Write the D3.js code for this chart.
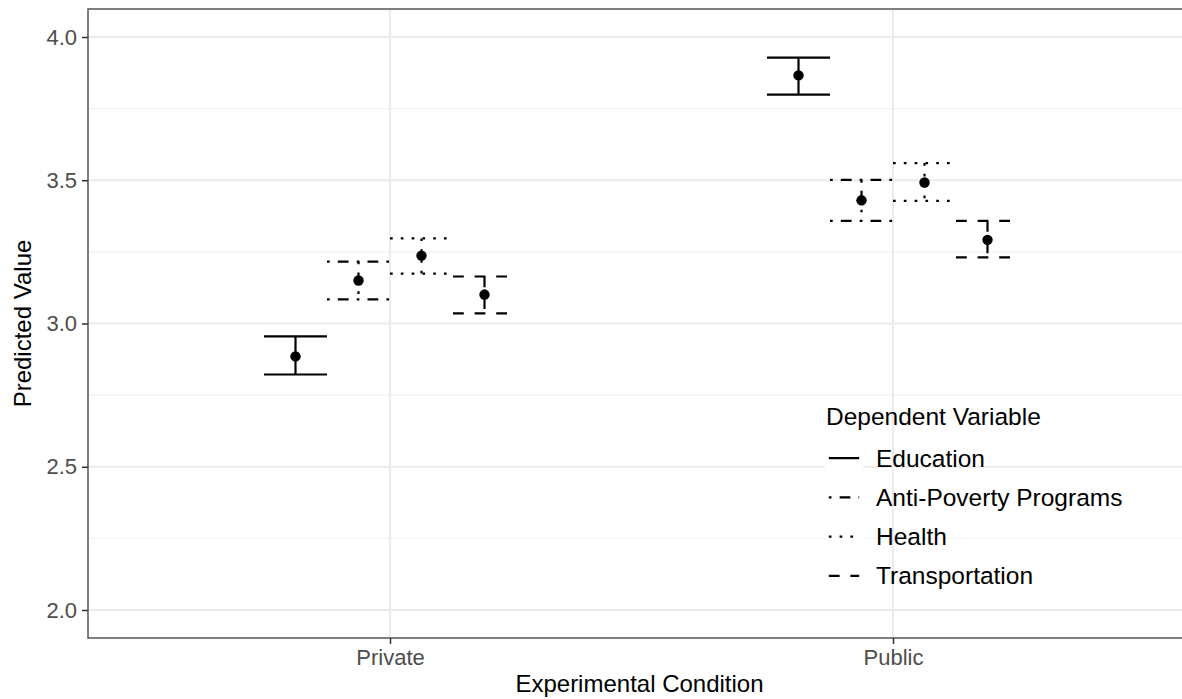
<!DOCTYPE html>
<html>
<head>
<meta charset="utf-8">
<script src="https://cdn.jsdelivr.net/npm/d3@7"></script>
<style>
  body { margin: 0; background: #fff; }
  svg { display: block; font-family: "Liberation Sans", Arial, sans-serif; }
</style>
</head>
<body>
<div id="chart"></div>
<script>
// conditions and dependent variables
const conditions = ['Private', 'Public'];
const variables = ['Education', 'Anti-Poverty Programs', 'Health', 'Transportation'];

// predicted values and intervals, one entry per variable (order as above)
const privateFit = [2.885, 3.150, 3.237, 3.101];
const privateLow = [2.822, 3.084, 3.174, 3.035];
const privateHigh = [2.955, 3.216, 3.297, 3.164];
const publicFit = [3.866, 3.430, 3.492, 3.292];
const publicLow = [3.799, 3.358, 3.428, 3.231];
const publicHigh = [3.928, 3.501, 3.560, 3.358];

const yTicks = [2.0, 2.5, 3.0, 3.5, 4.0];
const yMinor = [2.25, 2.75, 3.25, 3.75];

// R style linetypes, in units of the line width
const u = 2.7;
const dashes = {
  'Education': null,
  'Anti-Poverty Programs': [1, 3, 4, 3].map(d => d * u).join(','),
  'Health': [1, 3].map(d => d * u).join(','),
  'Transportation': [4, 4].map(d => d * u).join(',')
};

const rows = [];
variables.forEach((v, i) => {
  rows.push({ cond: 'Private', v, fit: privateFit[i], lo: privateLow[i], hi: privateHigh[i] });
  rows.push({ cond: 'Public', v, fit: publicFit[i], lo: publicLow[i], hi: publicHigh[i] });
});

const W = 1182, H = 699;
const panelLeft = 88, panelTop = 9, panelBottom = 638, panelRight = 1195;

const svg = d3.select('#chart').append('svg')
  .attr('width', W)
  .attr('height', H);

const x = d3.scalePoint()
  .domain(conditions)
  .range([390, 893]);

const dodge = d3.scaleBand()
  .domain(variables)
  .range([-126, 126]);

const y = d3.scaleLinear()
  .domain([2.0, 4.0])
  .range([610, 37]);

// grid
const grid = svg.append('g').attr('class', 'grid');
grid.selectAll('.minor').data(yMinor).enter().append('line')
  .attr('x1', panelLeft).attr('x2', panelRight)
  .attr('y1', d => y(d)).attr('y2', d => y(d))
  .attr('stroke', '#f2f2f2').attr('stroke-width', 1.2);
grid.selectAll('.major').data(yTicks).enter().append('line')
  .attr('x1', panelLeft).attr('x2', panelRight)
  .attr('y1', d => y(d)).attr('y2', d => y(d))
  .attr('stroke', '#ebebeb').attr('stroke-width', 2.2);
grid.selectAll('.vmajor').data(conditions).enter().append('line')
  .attr('x1', d => x(d)).attr('x2', d => x(d))
  .attr('y1', panelTop).attr('y2', panelBottom)
  .attr('stroke', '#ebebeb').attr('stroke-width', 2.2);

// error bars
const bars = svg.append('g').attr('class', 'bars');
const bw = dodge.bandwidth();
rows.forEach(r => {
  const cx = x(r.cond) + dodge(r.v) + bw / 2;
  const g = bars.append('g')
    .attr('fill', 'none')
    .attr('stroke', '#000')
    .attr('stroke-width', 2.2)
    .attr('stroke-dasharray', dashes[r.v]);
  g.append('line').attr('x1', cx - bw / 2).attr('x2', cx + bw / 2)
    .attr('y1', y(r.hi)).attr('y2', y(r.hi));
  g.append('line').attr('x1', cx - bw / 2).attr('x2', cx + bw / 2)
    .attr('y1', y(r.lo)).attr('y2', y(r.lo));
  g.append('line').attr('x1', cx).attr('x2', cx)
    .attr('y1', y(r.hi)).attr('y2', y(r.lo));
  bars.append('circle')
    .attr('cx', cx).attr('cy', y(r.fit))
    .attr('r', 5.2).attr('fill', '#000');
});

// panel border
svg.append('rect')
  .attr('x', panelLeft).attr('y', panelTop)
  .attr('width', panelRight - panelLeft).attr('height', panelBottom - panelTop)
  .attr('fill', 'none').attr('stroke', '#555').attr('stroke-width', 1.5);

// axes
const yAxis = svg.append('g')
  .attr('transform', `translate(${panelLeft},0)`)
  .call(d3.axisLeft(y).tickValues(yTicks).tickFormat(d3.format('.1f')).tickSize(6).tickPadding(5));
const xAxis = svg.append('g')
  .attr('transform', `translate(0,${panelBottom})`)
  .call(d3.axisBottom(x).tickSize(6).tickPadding(5));
[yAxis, xAxis].forEach(a => {
  a.select('.domain').remove();
  a.selectAll('.tick line').attr('stroke', '#333').attr('stroke-width', 1.5);
  a.selectAll('.tick text').attr('fill', '#4d4d4d')
    .style('font-size', '22px').style('font-family', '"Liberation Sans", Arial, sans-serif');
});

svg.append('text')
  .attr('x', (panelLeft + panelRight) / 2 - 2).attr('y', 692)
  .attr('text-anchor', 'middle')
  .style('font-size', '24px')
  .text('Experimental Condition');

svg.append('text')
  .attr('transform', `translate(31,${(panelTop + panelBottom) / 2}) rotate(-90)`)
  .attr('text-anchor', 'middle')
  .style('font-size', '24px')
  .text('Predicted Value');

// legend
const legend = svg.append('g').attr('transform', 'translate(825,0)');
legend.append('text')
  .attr('x', 1).attr('y', 425)
  .style('font-size', '24.5px')
  .text('Dependent Variable');
const keyY = d3.scaleBand().domain(variables).range([438.5, 595.5]);
variables.forEach(v => {
  const ky = keyY(v);
  const mid = ky + keyY.bandwidth() / 2;
  legend.append('rect')
    .attr('x', 0).attr('y', ky)
    .attr('width', 38).attr('height', keyY.bandwidth())
    .attr('fill', '#fff');
  legend.append('line')
    .attr('x1', 3.8).attr('x2', 34.2)
    .attr('y1', mid).attr('y2', mid)
    .attr('stroke', '#000').attr('stroke-width', 2.2)
    .attr('stroke-dasharray', dashes[v]);
  legend.append('text')
    .attr('x', 51).attr('y', mid + 8.5)
    .style('font-size', '24.5px')
    .text(v);
});
</script>
</body>
</html>
